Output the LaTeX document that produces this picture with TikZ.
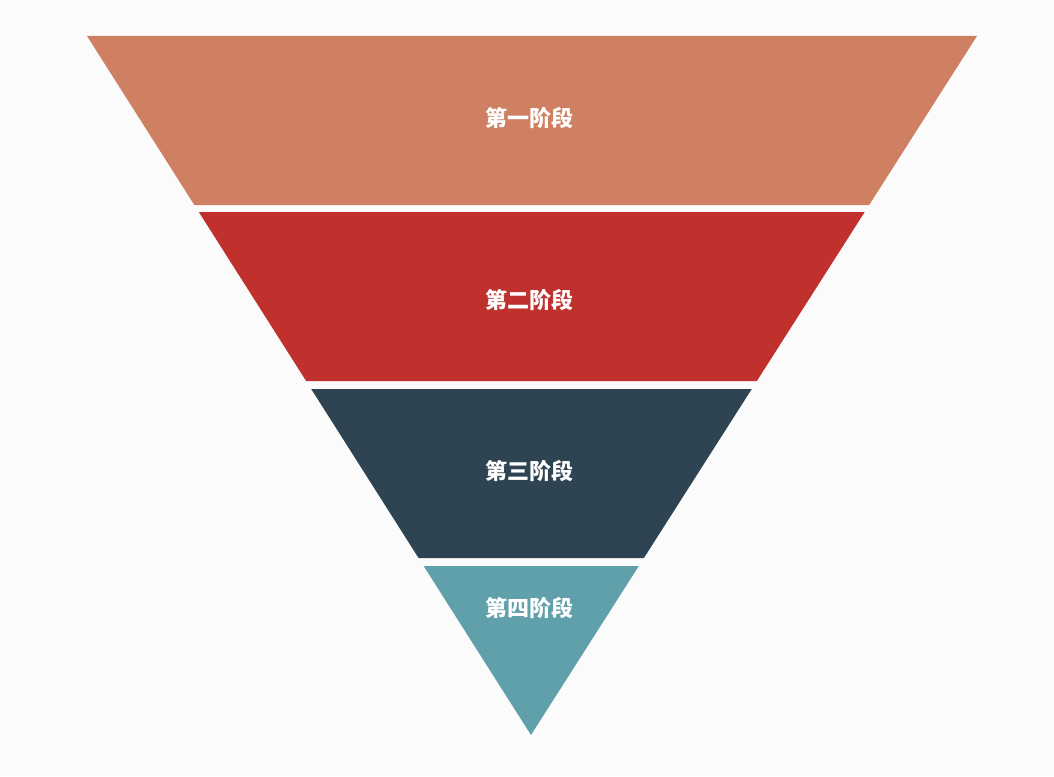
\documentclass[tikz,border=0pt]{standalone}
\usepackage{fontspec}
\newfontfamily\cjk{Noto Sans CJK SC}
\definecolor{stageA}{HTML}{D08062}
\definecolor{stageB}{HTML}{C0302D}
\definecolor{stageC}{HTML}{2E4453}
\definecolor{stageD}{HTML}{5FA0AA}
\definecolor{paper}{HTML}{FBFBFB}
\begin{document}
\begin{tikzpicture}[x=1pt,y=-1pt]
  \tikzset{label/.style={text=white,font=\cjk\bfseries\fontsize{22}{24}\selectfont,inner sep=0pt}}
  \fill [paper] (0,0) rectangle (1054,776);
  \useasboundingbox (0,0) rectangle (1054,776);
  \foreach \n/\top/\bot/\col/\txt/\ty in {a/36/205/stageA/第一阶段/118,
      b/212/381/stageB/第二阶段/300,
      c/389/558/stageC/第三阶段/471,
      d/566/735/stageD/第四阶段/608} {
    \pgfmathsetmacro{\xlt}{87+(\top-36)*0.6352}
    \pgfmathsetmacro{\xrt}{977-(\top-36)*0.6381}
    \pgfmathsetmacro{\xlb}{87+(\bot-36)*0.6352}
    \pgfmathsetmacro{\xrb}{977-(\bot-36)*0.6381}
    \fill [\col] (\xlt,\top) -- (\xrt,\top) -- (\xrb,\bot) -- (\xlb,\bot) -- cycle;
    \node [label] (stage-\n) at (529,\ty) {\txt};
  }
\end{tikzpicture}
\end{document}
